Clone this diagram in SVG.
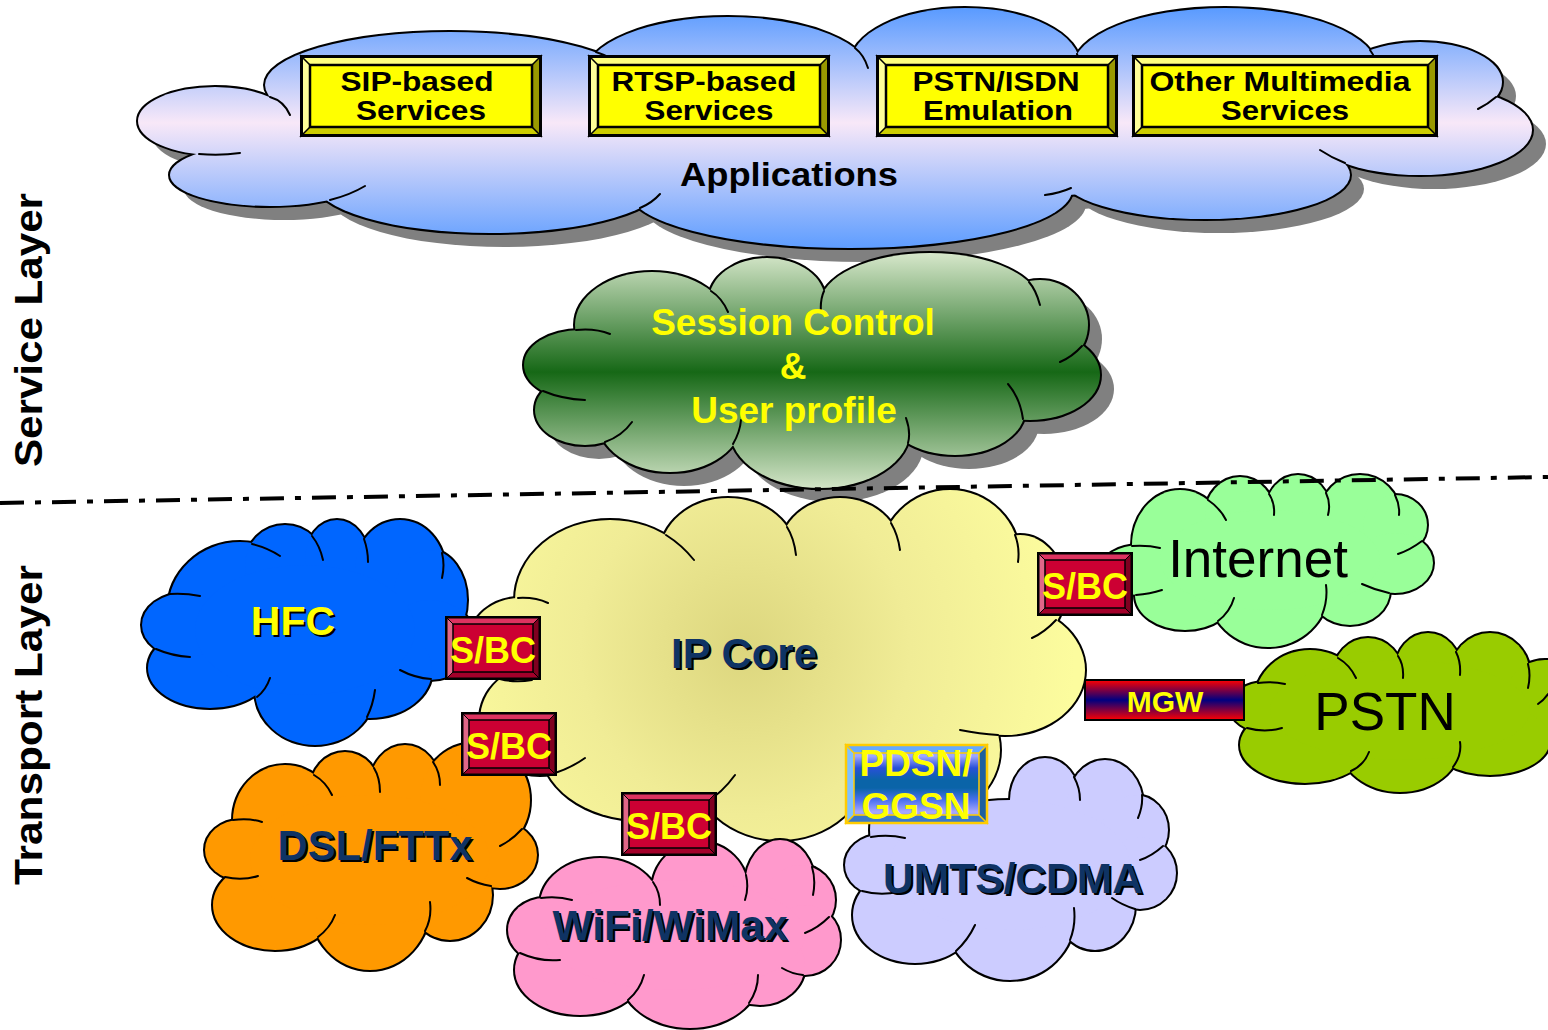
<svg xmlns="http://www.w3.org/2000/svg" xmlns:xlink="http://www.w3.org/1999/xlink" width="1548" height="1030" viewBox="0 0 1548 1030">
<defs>
<style>
.ol{fill:none;stroke:#000;stroke-width:4}
.sh{fill:#808080}
.cr{fill:none;stroke:#000;stroke-width:2;stroke-linecap:round}
.t{font-family:"Liberation Sans",Arial,Helvetica,sans-serif;font-weight:bold;text-anchor:middle}
.tr{font-family:"Liberation Sans",Arial,Helvetica,sans-serif;font-weight:normal;text-anchor:middle;fill:#000}
.bx{font-size:27px;fill:#000}
.yel{fill:#ffff00}
.navy{fill:#0f3364}
.tsh{fill:#000}
.sbct{font-size:36px;fill:#ffff00}
</style>
<linearGradient id="gA" gradientUnits="userSpaceOnUse" x1="0" y1="10" x2="0" y2="250">
<stop offset="0" stop-color="#5c9cff"/><stop offset="0.47" stop-color="#f8e8f8"/><stop offset="1" stop-color="#5c9cff"/>
</linearGradient>
<linearGradient id="gB" gradientUnits="userSpaceOnUse" x1="0" y1="252" x2="0" y2="492">
<stop offset="0" stop-color="#d8e8cc"/><stop offset="0.5" stop-color="#166816"/><stop offset="1" stop-color="#d8e8cc"/>
</linearGradient>
<radialGradient id="gC" gradientUnits="userSpaceOnUse" cx="745" cy="650" r="330">
<stop offset="0" stop-color="#dcd67e"/><stop offset="0.5" stop-color="#f0ec96"/><stop offset="1" stop-color="#fcfc9e"/>
</radialGradient>
<linearGradient id="gMGW" x1="0" y1="0" x2="0" y2="1">
<stop offset="0" stop-color="#ff0000"/><stop offset="0.5" stop-color="#000080"/><stop offset="1" stop-color="#ff0000"/>
</linearGradient>
<linearGradient id="gPD" x1="0" y1="0" x2="0" y2="1">
<stop offset="0" stop-color="#6f8ff0"/><stop offset="0.15" stop-color="#a0a8ff"/><stop offset="0.3" stop-color="#2850d8"/><stop offset="0.45" stop-color="#0a64a8"/><stop offset="0.55" stop-color="#0a64a8"/><stop offset="0.7" stop-color="#4a70f0"/><stop offset="0.85" stop-color="#a8a8ff"/><stop offset="1" stop-color="#5080e0"/>
</linearGradient>

<g id="cA">
<ellipse cx="215" cy="121" rx="77" ry="34"/><ellipse cx="270" cy="175" rx="100" ry="31"/><ellipse cx="490" cy="182" rx="175" ry="51"/><ellipse cx="850" cy="190" rx="222" ry="58"/><ellipse cx="1205" cy="175" rx="145" ry="44"/><ellipse cx="1420" cy="130" rx="112" ry="45"/><ellipse cx="1420" cy="82" rx="82" ry="40"/><ellipse cx="1225" cy="68" rx="152" ry="60"/><ellipse cx="965" cy="65" rx="115" ry="57"/><ellipse cx="728" cy="75" rx="143" ry="58"/><ellipse cx="450" cy="85" rx="185" ry="53"/><ellipse cx="790" cy="130" rx="560" ry="75"/>
</g>
<g id="cB">
<ellipse cx="652" cy="325" rx="77" ry="53"/><ellipse cx="767" cy="300" rx="58" ry="42"/><ellipse cx="930" cy="305" rx="110" ry="52"/><ellipse cx="1040" cy="325" rx="48" ry="45"/><ellipse cx="1030" cy="375" rx="70" ry="45"/><ellipse cx="955" cy="410" rx="70" ry="45"/><ellipse cx="820" cy="430" rx="90" ry="58"/><ellipse cx="670" cy="420" rx="72" ry="52"/><ellipse cx="585" cy="410" rx="50" ry="35"/><ellipse cx="580" cy="365" rx="56" ry="35"/><ellipse cx="810" cy="370" rx="230" ry="80"/>
</g>
<g id="cC">
<ellipse cx="610" cy="600" rx="95" ry="80"/><ellipse cx="728" cy="555" rx="68" ry="57"/><ellipse cx="840" cy="550" rx="60" ry="52"/><ellipse cx="950" cy="560" rx="70" ry="70"/><ellipse cx="1020" cy="590" rx="45" ry="55"/><ellipse cx="1005" cy="670" rx="80" ry="65"/><ellipse cx="920" cy="750" rx="80" ry="70"/><ellipse cx="780" cy="760" rx="90" ry="80"/><ellipse cx="640" cy="745" rx="100" ry="75"/><ellipse cx="540" cy="720" rx="60" ry="55"/><ellipse cx="520" cy="640" rx="50" ry="42"/><ellipse cx="770" cy="665" rx="230" ry="130"/>
</g>
<g id="cD">
<ellipse cx="240" cy="610" rx="72" ry="68"/><ellipse cx="285" cy="565" rx="40" ry="40"/><ellipse cx="337" cy="560" rx="32" ry="40"/><ellipse cx="400" cy="570" rx="45" ry="50"/><ellipse cx="430" cy="600" rx="37" ry="50"/><ellipse cx="430" cy="640" rx="45" ry="40"/><ellipse cx="370" cy="670" rx="62" ry="48"/><ellipse cx="315" cy="690" rx="60" ry="55"/><ellipse cx="210" cy="668" rx="62" ry="40"/><ellipse cx="185" cy="625" rx="43" ry="32"/><ellipse cx="305" cy="630" rx="110" ry="65"/>
</g>
<g id="cE">
<ellipse cx="285" cy="820" rx="52" ry="55"/><ellipse cx="345" cy="790" rx="35" ry="38"/><ellipse cx="405" cy="785" rx="35" ry="40"/><ellipse cx="475" cy="800" rx="55" ry="57"/><ellipse cx="500" cy="855" rx="37" ry="33"/><ellipse cx="450" cy="895" rx="42" ry="45"/><ellipse cx="370" cy="905" rx="60" ry="65"/><ellipse cx="275" cy="905" rx="62" ry="45"/><ellipse cx="240" cy="850" rx="35" ry="30"/><ellipse cx="370" cy="860" rx="120" ry="65"/>
</g>
<g id="cF">
<ellipse cx="930" cy="830" rx="60" ry="60"/><ellipse cx="1045" cy="800" rx="35" ry="42"/><ellipse cx="1105" cy="805" rx="38" ry="45"/><ellipse cx="1135" cy="830" rx="33" ry="35"/><ellipse cx="1140" cy="873" rx="36" ry="36"/><ellipse cx="1095" cy="905" rx="40" ry="45"/><ellipse cx="1010" cy="915" rx="65" ry="65"/><ellipse cx="915" cy="915" rx="62" ry="48"/><ellipse cx="880" cy="865" rx="35" ry="30"/><ellipse cx="1010" cy="865" rx="120" ry="65"/>
</g>
<g id="cG">
<ellipse cx="600" cy="905" rx="60" ry="47"/><ellipse cx="700" cy="890" rx="48" ry="48"/><ellipse cx="780" cy="885" rx="35" ry="45"/><ellipse cx="800" cy="900" rx="35" ry="35"/><ellipse cx="805" cy="940" rx="35" ry="35"/><ellipse cx="760" cy="965" rx="45" ry="40"/><ellipse cx="690" cy="975" rx="70" ry="53"/><ellipse cx="580" cy="970" rx="65" ry="45"/><ellipse cx="545" cy="930" rx="37" ry="32"/><ellipse cx="675" cy="935" rx="130" ry="55"/>
</g>
<g id="cH">
<ellipse cx="1180" cy="545" rx="48" ry="55"/><ellipse cx="1240" cy="515" rx="35" ry="38"/><ellipse cx="1298" cy="510" rx="32" ry="35"/><ellipse cx="1360" cy="515" rx="40" ry="40"/><ellipse cx="1395" cy="525" rx="32" ry="30"/><ellipse cx="1395" cy="563" rx="38" ry="30"/><ellipse cx="1350" cy="590" rx="40" ry="35"/><ellipse cx="1268" cy="590" rx="60" ry="57"/><ellipse cx="1185" cy="595" rx="50" ry="35"/><ellipse cx="1140" cy="570" rx="40" ry="25"/><ellipse cx="1270" cy="560" rx="110" ry="50"/>
</g>
<g id="cI">
<ellipse cx="1310" cy="700" rx="55" ry="50"/><ellipse cx="1368" cy="675" rx="35" ry="37"/><ellipse cx="1428" cy="670" rx="33" ry="37"/><ellipse cx="1490" cy="675" rx="40" ry="42"/><ellipse cx="1545" cy="700" rx="40" ry="40"/><ellipse cx="1490" cy="740" rx="60" ry="35"/><ellipse cx="1400" cy="745" rx="60" ry="47"/><ellipse cx="1305" cy="745" rx="65" ry="38"/><ellipse cx="1265" cy="707" rx="35" ry="25"/><ellipse cx="1400" cy="710" rx="130" ry="50"/>
</g>

<g id="ybox">
<rect width="242" height="82" fill="#ffff00"/>
<polygon points="0,0 242,0 232,10 10,10" fill="#ffff80"/>
<polygon points="0,0 10,10 10,72 0,82" fill="#ffff99"/>
<polygon points="242,0 242,82 232,72 232,10" fill="#999900"/>
<polygon points="0,82 10,72 232,72 242,82" fill="#cccc00"/>
<path d="M0,0L10,10M242,0L232,10M0,82L10,72M242,82L232,72" stroke="#000" stroke-width="1.5"/>
<rect x="10" y="10" width="222" height="62" fill="none" stroke="#000" stroke-width="2.5"/>
<rect x="1.5" y="1.5" width="239" height="79" fill="none" stroke="#000" stroke-width="3"/>
</g>
<g id="sbc">
<rect width="96" height="64" fill="#cc0033"/>
<polygon points="0,0 96,0 88,8 8,8" fill="#dd3360"/>
<polygon points="0,0 8,8 8,56 0,64" fill="#e06688"/>
<polygon points="96,0 96,64 88,56 88,8" fill="#800020"/>
<polygon points="0,64 8,56 88,56 96,64" fill="#a3002a"/>
<path d="M0,0L8,8M96,0L88,8M0,64L8,56M96,64L88,56" stroke="#000" stroke-width="1"/>
<rect x="8" y="8" width="80" height="48" fill="none" stroke="#000" stroke-width="1.5"/>
<rect x="1.25" y="1.25" width="93.5" height="61.5" fill="none" stroke="#000" stroke-width="2.5"/>
</g>
</defs>

<rect width="1548" height="1030" fill="#ffffff"/>

<g id="label-service-layer">
<text class="t" transform="translate(42,330) rotate(-90)" font-size="39" fill="#000" textLength="274" lengthAdjust="spacingAndGlyphs">Service Layer</text>
</g>
<g id="label-transport-layer">
<text class="t" transform="translate(42,725) rotate(-90)" font-size="39" fill="#000" textLength="320" lengthAdjust="spacingAndGlyphs">Transport Layer</text>
</g>

<g id="applications">
<use xlink:href="#cA" class="sh" transform="translate(14,14)"/>
<use xlink:href="#cA" class="ol"/>
<use xlink:href="#cA" fill="url(#gA)"/>
<path class="cr" d="M270,97 Q284,101 290,115 M596,52 Q612,57 628,70 M855,48 Q864,55 868,68 M1077,54 Q1080,60 1079,70 M1370,50 Q1376,58 1377,68 M1496,97 Q1488,104 1478,109 M1345,163 Q1332,158 1320,150 M1071,188 Q1060,193 1045,195 M640,208 Q652,203 660,194 M330,200 Q350,195 365,186 M199,154 Q220,156 240,153"/>
<text class="t" x="789" y="186" font-size="33" fill="#000" textLength="218" lengthAdjust="spacingAndGlyphs">Applications</text>
</g>

<g id="sip-based-services">
<use xlink:href="#ybox" x="300" y="55"/>
<text class="t bx" x="417" y="91" textLength="153" lengthAdjust="spacingAndGlyphs">SIP-based</text>
<text class="t bx" x="421" y="120" textLength="130" lengthAdjust="spacingAndGlyphs">Services</text>
</g>
<g id="rtsp-based-services">
<use xlink:href="#ybox" x="588" y="55"/>
<text class="t bx" x="704" y="91" textLength="185" lengthAdjust="spacingAndGlyphs">RTSP-based</text>
<text class="t bx" x="709" y="120" textLength="129" lengthAdjust="spacingAndGlyphs">Services</text>
</g>
<g id="pstn-isdn-emulation">
<use xlink:href="#ybox" x="876" y="55"/>
<text class="t bx" x="996" y="91" textLength="167" lengthAdjust="spacingAndGlyphs">PSTN/ISDN</text>
<text class="t bx" x="998" y="120" textLength="150" lengthAdjust="spacingAndGlyphs">Emulation</text>
</g>
<g id="other-multimedia-services">
<rect x="1132" y="55" width="306" height="82" fill="#ffff00"/>
<polygon points="1132,55 1438,55 1428,65 1142,65" fill="#ffff80"/>
<polygon points="1132,55 1142,65 1142,127 1132,137" fill="#ffff99"/>
<polygon points="1438,55 1438,137 1428,127 1428,65" fill="#999900"/>
<polygon points="1132,137 1142,127 1428,127 1438,137" fill="#cccc00"/>
<path d="M1132,55L1142,65M1438,55L1428,65M1132,137L1142,127M1438,137L1428,127" stroke="#000" stroke-width="1.5"/>
<rect x="1142" y="65" width="286" height="62" fill="none" stroke="#000" stroke-width="2.5"/>
<rect x="1133.5" y="56.5" width="303" height="79" fill="none" stroke="#000" stroke-width="3"/>
<text class="t bx" x="1280" y="91" textLength="261" lengthAdjust="spacingAndGlyphs">Other Multimedia</text>
<text class="t bx" x="1285" y="120" textLength="128" lengthAdjust="spacingAndGlyphs">Services</text>
</g>

<g id="session-control">
<use xlink:href="#cB" class="sh" transform="translate(14,14)"/>
<use xlink:href="#cB" class="ol"/>
<use xlink:href="#cB" fill="url(#gB)"/>
<path class="cr" d="M711,291 Q722,298 728,312 M824,291 Q820,300 821,312 M1029,282 Q1036,290 1040,305 M1082,346 Q1072,357 1060,362 M1023,419 Q1020,398 1008,384 M908,443 Q911,432 906,418 M733,444 Q740,432 741,420 M605,442 Q622,436 632,422 M543,391 Q562,399 585,400 M576,330 Q595,328 610,334"/>
<text class="t yel" x="793" y="335" font-size="37">Session Control</text>
<text class="t yel" x="793" y="379" font-size="37">&amp;</text>
<text class="t yel" x="794" y="423" font-size="37">User profile</text>
</g>

<g id="umts-cdma">
<use xlink:href="#cF" class="ol"/>
<use xlink:href="#cF" fill="#ccccff"/>
<path class="cr" d="M1074,777 Q1080,788 1080,800 M1142,795 Q1143,806 1138,818 M1163,846 Q1152,856 1140,860 M1135,909 Q1122,905 1112,898 M1070,940 Q1076,925 1074,908 M956,951 Q968,940 975,925 M862,891 Q880,896 898,892 M871,837 Q888,834 905,838"/>
<text class="t tsh" x="1015" y="895" font-size="42" textLength="260" lengthAdjust="spacingAndGlyphs">UMTS/CDMA</text>
<text class="t navy" x="1013" y="893" font-size="42" textLength="260" lengthAdjust="spacingAndGlyphs">UMTS/CDMA</text>
</g>

<g id="ip-core">
<use xlink:href="#cC" class="ol"/>
<use xlink:href="#cC" fill="url(#gC)"/>
<path class="cr" d="M666,535 Q682,545 694,560 M787,527 Q794,538 796,555 M891,523 Q898,535 900,550 M1015,535 Q1020,548 1018,562 M1056,620 Q1045,632 1032,638 M998,735 Q980,734 960,730 M705,803 Q722,793 735,775 M548,775 Q568,770 585,758 M500,679 Q515,683 532,680 M518,598 Q535,597 548,603"/>
<text class="t tsh" x="746" y="670" font-size="42" textLength="146" lengthAdjust="spacingAndGlyphs">IP Core</text>
<text class="t navy" x="744" y="668" font-size="42" textLength="146" lengthAdjust="spacingAndGlyphs">IP Core</text>
</g>

<g id="hfc">
<use xlink:href="#cD" class="ol"/>
<use xlink:href="#cD" fill="#0066ff"/>
<path class="cr" d="M252,544 Q268,548 280,556 M312,536 Q320,546 323,560 M364,539 Q368,550 368,562 M442,553 Q445,565 442,578 M431,679 Q415,678 400,670 M367,717 Q373,705 375,690 M257,697 Q266,690 270,678 M156,649 Q172,656 190,657 M170,594 Q185,593 200,596"/>
<text class="t tsh" x="295" y="637" font-size="41">HFC</text>
<text class="t yel" x="293" y="635" font-size="41">HFC</text>
</g>

<g id="dsl-fttx">
<use xlink:href="#cE" class="ol"/>
<use xlink:href="#cE" fill="#ff9900"/>
<path class="cr" d="M314,775 Q326,782 332,795 M374,768 Q380,778 380,792 M433,762 Q440,772 440,785 M522,829 Q512,840 500,846 M491,886 Q478,884 467,878 M425,931 Q432,918 430,902 M318,937 Q330,928 335,915 M225,877 Q242,881 258,876 M233,820 Q250,818 262,822"/>
<text class="t tsh" x="377" y="862" font-size="42" textLength="195" lengthAdjust="spacingAndGlyphs">DSL/FTTx</text>
<text class="t navy" x="375" y="860" font-size="42" textLength="195" lengthAdjust="spacingAndGlyphs">DSL/FTTx</text>
</g>

<g id="wifi-wimax">
<use xlink:href="#cG" class="ol"/>
<use xlink:href="#cG" fill="#ff99cc"/>
<path class="cr" d="M653,882 Q660,892 660,905 M746,875 Q749,888 745,900 M812,867 Q816,880 813,895 M829,917 Q818,928 805,933 M803,975 Q792,974 782,968 M749,1003 Q758,990 758,975 M628,1000 Q640,990 644,975 M520,953 Q540,962 560,960 M541,898 Q558,896 572,900"/>
<text class="t tsh" x="672" y="942" font-size="42" textLength="235" lengthAdjust="spacingAndGlyphs">WiFi/WiMax</text>
<text class="t navy" x="670" y="940" font-size="42" textLength="235" lengthAdjust="spacingAndGlyphs">WiFi/WiMax</text>
</g>

<g id="internet">
<use xlink:href="#cH" class="ol"/>
<use xlink:href="#cH" fill="#99ff99"/>
<path class="cr" d="M1208,500 Q1220,508 1226,520 M1269,494 Q1275,503 1274,515 M1326,493 Q1331,503 1328,515 M1395,495 Q1400,505 1399,515 M1422,541 Q1410,550 1398,554 M1389,593 Q1375,590 1362,584 M1322,615 Q1328,600 1326,585 M1218,621 Q1230,612 1234,598 M1136,595 Q1150,594 1162,590 M1132,546 Q1148,545 1160,548"/>
<text class="tr" x="1258" y="577" font-size="53">Internet</text>
</g>

<g id="pstn">
<use xlink:href="#cI" class="ol"/>
<use xlink:href="#cI" fill="#99cc00"/>
<path class="cr" d="M1338,658 Q1350,665 1356,678 M1398,656 Q1404,665 1403,678 M1456,652 Q1461,662 1460,675 M1528,664 Q1531,675 1528,688 M1548,694 Q1544,700 1538,704 M1453,767 Q1462,755 1460,742 M1351,771 Q1364,765 1369,752 M1247,728 Q1265,733 1282,728 M1258,683 Q1272,681 1285,684"/>
<text class="tr" x="1385" y="730" font-size="53">PSTN</text>
</g>

<g id="connectors">
<line x1="0" y1="503" x2="1548" y2="477" stroke="#000" stroke-width="4" stroke-dasharray="24 11 6 11"/>
</g>

<g id="sbc-hfc">
<use xlink:href="#sbc" x="445" y="616"/>
<text class="t sbct" x="493" y="663">S/BC</text>
</g>
<g id="sbc-dsl">
<use xlink:href="#sbc" x="461" y="712"/>
<text class="t sbct" x="509" y="759">S/BC</text>
</g>
<g id="sbc-wifi">
<use xlink:href="#sbc" x="621" y="792"/>
<text class="t sbct" x="669" y="839">S/BC</text>
</g>
<g id="sbc-internet">
<use xlink:href="#sbc" x="1037" y="552"/>
<text class="t sbct" x="1085" y="599">S/BC</text>
</g>

<g id="mgw">
<rect x="1085" y="680" width="159" height="40" fill="url(#gMGW)" stroke="#000" stroke-width="2"/>
<text class="t yel" x="1165" y="712" font-size="30">MGW</text>
</g>

<g id="pdsn-ggsn">
<rect x="845" y="744" width="143" height="80" fill="url(#gPD)"/>
<polygon points="845,744 988,744 979,753 854,753" fill="#66aaff"/>
<polygon points="845,744 854,753 854,815 845,824" fill="#80c0ff"/>
<polygon points="988,744 988,824 979,815 979,753" fill="#1f5f9f"/>
<polygon points="845,824 854,815 979,815 988,824" fill="#3a78c8"/>
<path d="M845,744L854,753M988,744L979,753M845,824L854,815M988,824L979,815" stroke="#ffcc00" stroke-width="1.5"/>
<rect x="854" y="753" width="125" height="62" fill="none" stroke="#ffcc00" stroke-width="1.5"/>
<rect x="846" y="745" width="141" height="78" fill="none" stroke="#ffcc00" stroke-width="2.5"/>
<text class="t yel" x="916" y="776" font-size="37">PDSN/</text>
<text class="t yel" x="916" y="819" font-size="37">GGSN</text>
</g>
</svg>
